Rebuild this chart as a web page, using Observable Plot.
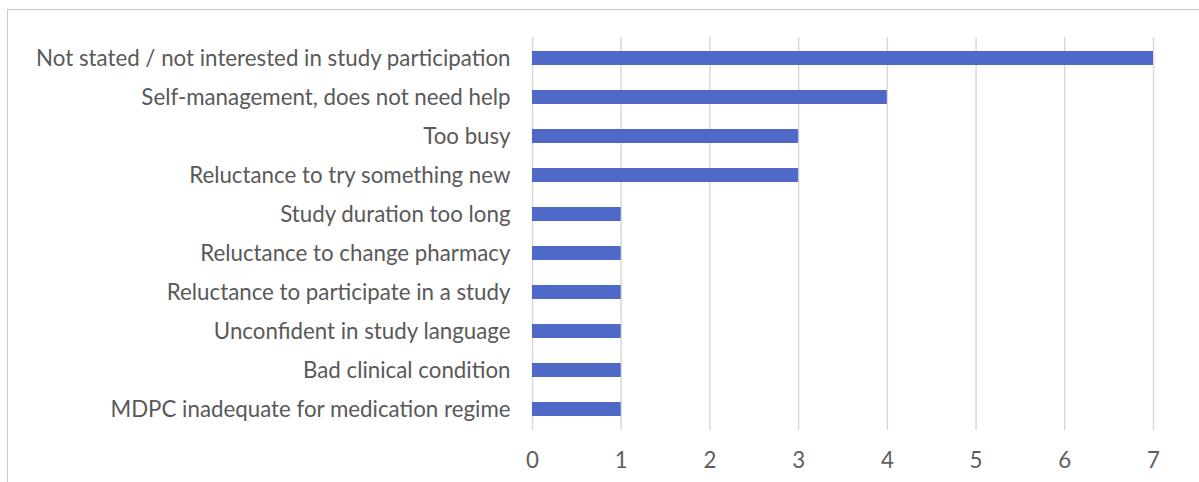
<!DOCTYPE html>
<html>
<head>
<meta charset="utf-8">
<script src="https://cdn.jsdelivr.net/npm/d3@7"></script>
<script src="https://cdn.jsdelivr.net/npm/@observablehq/plot@0.6"></script>
<style>
  html, body { margin: 0; padding: 0; background: #fff; overflow: hidden; }
  #wrap { position: relative; width: 1199px; height: 482px; }
  #frame { position: absolute; left: 7px; top: 9px; width: 1300px; height: 600px; border: 1.5px solid #CCCCCC; box-sizing: border-box; pointer-events: none; }
</style>
</head>
<body>
<div id="wrap"><div id="frame"></div><div id="chart"></div></div>
<script>
const reasons = [
  "Not stated / not interested in study participation",
  "Self-management, does not need help",
  "Too busy",
  "Reluctance to try something new",
  "Study duration too long",
  "Reluctance to change pharmacy",
  "Reluctance to participate in a study",
  "Unconfident in study language",
  "Bad clinical condition",
  "MDPC inadequate for medication regime"
];
const counts = [7, 4, 3, 3, 1, 1, 1, 1, 1, 1];
const xTicks = [0, 1, 2, 3, 4, 5, 6, 7];

const data = reasons.map((r, i) => ({reason: r, count: counts[i]}));

const chart = Plot.plot({
  width: 1199,
  height: 482,
  marginLeft: 532,
  marginRight: 46,
  marginTop: 37,
  marginBottom: 52,
  style: {fontFamily: "Lato, sans-serif", fontSize: "22.3px", color: "#595959", background: "transparent"},
  x: {domain: [0, 7], ticks: xTicks, label: null, tickSize: 0, tickPadding: 22},
  y: {domain: reasons, label: null, tickSize: 0, tickPadding: 22, paddingInner: 0.64, paddingOuter: 0.34},
  marks: [
    Plot.gridX(xTicks, {stroke: "#D9D9D9", strokeOpacity: 1, strokeWidth: 1.5}),
    Plot.barX(data, {x: "count", y: "reason", fill: "#4E69C7"}),
    Plot.axisX({ticks: xTicks, tickFormat: "d", tickSize: 0, tickPadding: 22, label: null, fill: "#5E5E5E"}),
    Plot.axisY({tickSize: 0, tickPadding: 22, label: null, fill: "#595959"})
  ]
});
document.getElementById("chart").appendChild(chart);
</script>
</body>
</html>
